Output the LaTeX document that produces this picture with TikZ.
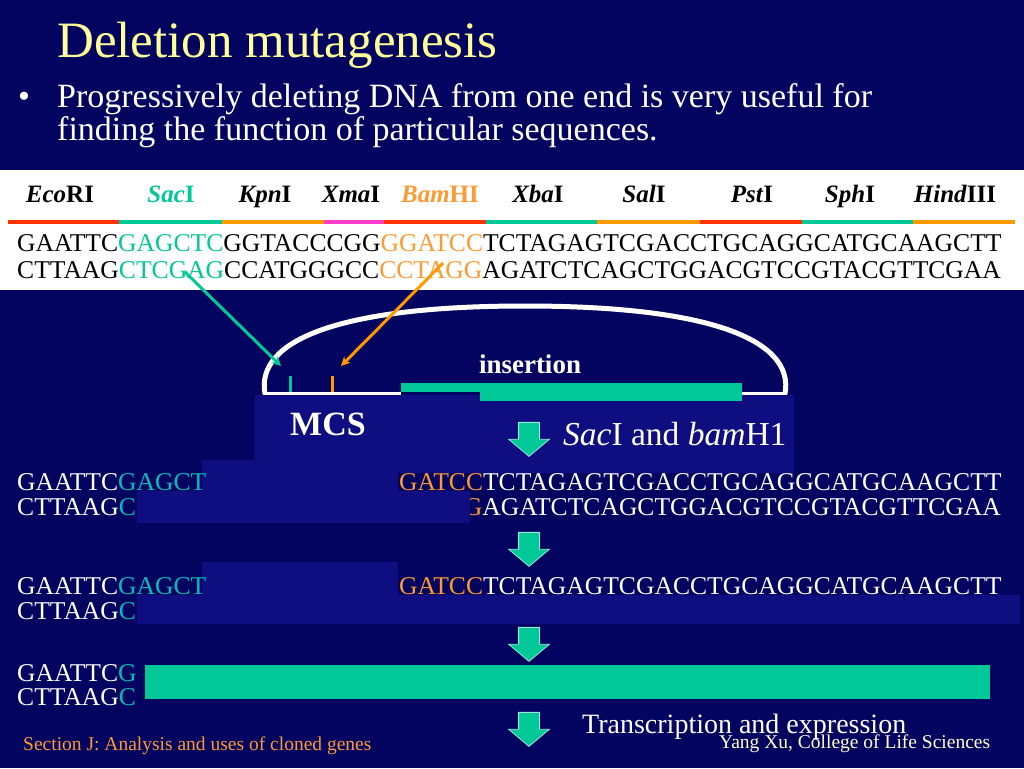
\documentclass[tikz,border=0pt]{standalone}
\usepackage{fontspec}
\setmainfont{Liberation Serif}
\usetikzlibrary{positioning,arrows,shapes.arrows}
\definecolor{slidebg}{RGB}{3,3,96}
\definecolor{patchbg}{RGB}{14,14,128}
\definecolor{seqteal}{RGB}{0,200,150}
\definecolor{lowteal}{RGB}{0,190,185}
\definecolor{seqorange}{RGB}{255,153,51}
\definecolor{cutred}{RGB}{255,51,0}
\definecolor{cutorange}{RGB}{255,153,0}
\definecolor{cutpink}{RGB}{255,60,200}
\definecolor{titleyellow}{RGB}{255,255,153}
\definecolor{creditwhite}{RGB}{255,255,210}
\tikzset{
	seq/.style={anchor=base west, inner sep=0pt, font=\fontsize{25.6}{25.6}\selectfont},
	enz/.style={anchor=base, inner sep=0pt, font=\fontsize{25}{25}\selectfont\bfseries},
	cutbar/.style={line width=4pt},
	patch/.style={fill=patchbg},
	downarrow/.style={single arrow, shape border rotate=270, fill=seqteal, draw=seqteal!40!white,
		line width=0.8pt, inner sep=10pt, minimum width=40pt, minimum height=34pt,
		single arrow head extend=10pt, single arrow tip angle=100},
}

\begin{document}
\begin{tikzpicture}[x=1pt, y=-1pt]
	\useasboundingbox (0,0) rectangle (1024,768);
	\fill[slidebg] (0,0) rectangle (1024,768);
	\fill[white] (0,170) rectangle (1024,290);

	% title and bullet
	\node[anchor=base west, inner sep=0pt, text=titleyellow, font=\fontsize{51}{51}\selectfont] (title) at (57,58) {Deletion mutagenesis};
	\node[anchor=base, inner sep=0pt, text=white, font=\fontsize{34}{34}\selectfont] (dot) at (24,107) {•};
	\node[anchor=base west, inner sep=0pt, text=white, font=\fontsize{34}{34}\selectfont] (bullet1) at (57,107) {Progressively deleting DNA from one end is very useful for};
	\node[anchor=base west, inner sep=0pt, text=white, font=\fontsize{34}{34}\selectfont] (bullet2) at (57,140) {finding the function of particular sequences.};

	% restriction sites
	\node[enz] (ecori) at (60,202) {\textit{Eco}RI};
	\node[enz, text=seqteal] (saci) at (171,202) {\textit{Sac}I};
	\node[enz] (kpni) at (265,202) {\textit{Kpn}I};
	\node[enz] (xmai) at (351,202) {\textit{Xma}I};
	\node[enz, text=seqorange] (bamhi) at (440,202) {\textit{Bam}HI};
	\node[enz] (xbai) at (538,202) {\textit{Xba}I};
	\node[enz] (sali) at (644,202) {\textit{Sal}I};
	\node[enz] (psti) at (752,202) {\textit{Pst}I};
	\node[enz] (sphi) at (850,202) {\textit{Sph}I};
	\node[enz] (hindiii) at (955,202) {\textit{Hind}III};

	\draw[cutbar, cutred] (8,222) -- (119,222);
	\draw[cutbar, seqteal] (119,222) -- (222,222);
	\draw[cutbar, cutorange] (222,222) -- (324,222);
	\draw[cutbar, cutpink] (324,222) -- (384,222);
	\draw[cutbar, cutred] (384,222) -- (486,222);
	\draw[cutbar, seqteal] (486,222) -- (597,222);
	\draw[cutbar, cutorange] (597,222) -- (700,222);
	\draw[cutbar, cutred] (700,222) -- (802,222);
	\draw[cutbar, seqteal] (802,222) -- (913,222);
	\draw[cutbar, cutorange] (913,222) -- (1015,222);

	\node[seq] (topseq) at (17,251) {GAATTC\textcolor{seqteal}{GAGCTC}GGTACCCGG\textcolor{seqorange}{GGATCC}TCTAGAGTCGACCTGCAGGCATGCAAGCTT};
	\node[seq] (botseq) at (17,278) {CTTAAG\textcolor{seqteal}{CTCGAG}CCATGGGCC\textcolor{seqorange}{CCTAGG}AGATCTCAGCTGGACGTCCGTACGTTCGAA};

	% patches over the deleted bases
	\fill[patch] (255,395) rectangle (794,460);
	\fill[patch] (202,460) rectangle (794,473);
	\fill[patch] (202,473) rectangle (398,492);
	\fill[patch] (202,562) rectangle (398,595);
	\fill[patch] (137,595) rectangle (1020,624);

	% vector
	\draw[white, line width=5pt] (265,394) .. controls (255,340) and (340,306) .. (525,306) .. controls (710,306) and (795,340) .. (785,394);
	\draw[white, line width=3pt] (263,393) -- (401,393);
	\draw[white, line width=3pt] (742,393) -- (787,393);
	\fill[seqteal] (401,383) rectangle (742,392);
	\fill[seqteal] (480,383) rectangle (742,401);
	\draw[seqteal, line width=3pt] (290,376) -- (290,392);
	\draw[cutorange, line width=3pt] (332,376) -- (332,392);
	\coordinate (sacstart) at (185,272);
	\coordinate (sacsite) at (281,366);
	\coordinate (bamstart) at (443,263);
	\coordinate (bamsite) at (341,366);
	\draw[->, >=stealth, seqteal, line width=3pt] (sacstart) -- (sacsite);
	\draw[->, >=stealth, cutorange, line width=3pt] (bamstart) -- (bamsite);

	\node[anchor=base, inner sep=0pt, text=white, font=\fontsize{27}{27}\selectfont\bfseries] (ins) at (530,373) {insertion};
	\node[anchor=base, inner sep=0pt, text=white, font=\fontsize{34}{34}\selectfont\bfseries] (mcs) at (328,435) {MCS};
	\node[anchor=base west, inner sep=0pt, text=white, font=\fontsize{33.5}{33.5}\selectfont] (enzymes) at (563,445) {\textit{Sac}I and \textit{bam}H1};

	% steps
	\node[downarrow] (step1) at (529,435) {};
	\node[seq, text=white] (cut1top) at (17,490) {GAATTC\textcolor{lowteal}{GAGCT}\phantom{CGGTACCCGGG}\textcolor{seqorange}{GATCC}TCTAGAGTCGACCTGCAGGCATGCAAGCTT};
	\node[seq, text=white] (cut1bot) at (17,515) {CTTAAG\textcolor{lowteal}{C}\phantom{TCGAGCCATGGGCCCCTAG}\textcolor{seqorange}{G}AGATCTCAGCTGGACGTCCGTACGTTCGAA};
	\fill[patch] (137,491) rectangle (470,523);

	\node[downarrow] (step2) at (529,545) {};
	\node[seq, text=white] (cut2top) at (17,594) {GAATTC\textcolor{lowteal}{GAGCT}\phantom{CGGTACCCGGG}\textcolor{seqorange}{GATCC}TCTAGAGTCGACCTGCAGGCATGCAAGCTT};
	\node[seq, text=white] (cut2bot) at (17,619) {CTTAAG\textcolor{lowteal}{C}};

	\node[downarrow] (step3) at (529,640) {};
	\node[seq, text=white] (cut3top) at (17,681) {GAATTC\textcolor{lowteal}{G}};
	\node[seq, text=white] (cut3bot) at (17,705) {CTTAAG\textcolor{lowteal}{C}};
	\fill[seqteal] (145,665) rectangle (990,699);

	\node[downarrow] (step4) at (529,725) {};
	\node[anchor=base west, inner sep=0pt, text=white, font=\fontsize{28}{28}\selectfont] (expr) at (582,733) {Transcription and expression};

	% footer
	\node[anchor=base west, inner sep=0pt, text=seqorange, font=\fontsize{19.5}{19.5}\selectfont] (section) at (23,750) {Section J: Analysis and uses of cloned genes};
	\node[anchor=base west, inner sep=0pt, text=creditwhite, font=\fontsize{19.5}{19.5}\selectfont] (credit) at (719,748) {Yang Xu, College of Life Sciences};
\end{tikzpicture}
\end{document}
